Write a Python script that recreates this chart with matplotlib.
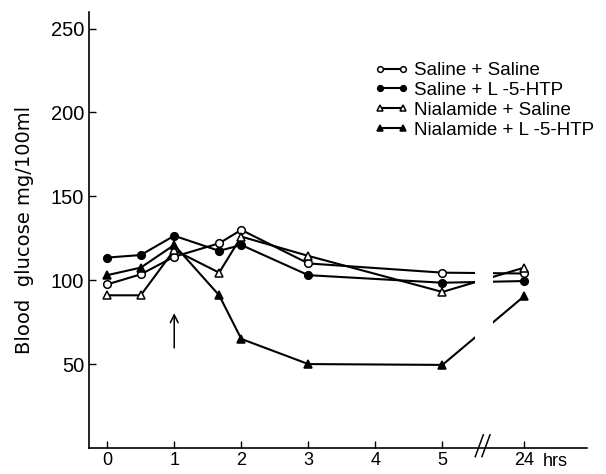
import numpy as np
import matplotlib.pyplot as plt

plt.rcParams['font.family'] = ['Liberation Sans', 'DejaVu Sans']

# sampling times (hours); 24 h is drawn after an axis break
hours = [0, 0.5, 1, 1.67, 2, 3, 5, 24]
tick_hours = [0, 1, 2, 3, 4, 5, 24]
tick_labels = ['0', '1', '2', '3', '4', '5', '24']
pos_24 = 6.22     # where the 24 h value sits on the broken axis
break_pos = 5.6

saline_saline = [97.5, 103.5, 114, 122, 130, 110, 104.5, 104]
saline_htp = [113.5, 115, 126.5, 117.5, 121, 103, 98.5, 99.5]
nial_saline = [91, 91, 118, 104.5, 126, 114.5, 93, 107.5]
nial_htp = [103, 107.5, 121, 91, 65, 50, 49.5, 90.5]

arrow_at = 1
arrow_from, arrow_to = 58, 82


def to_pos(h):
    return np.array([pos_24 if v == 24 else v for v in h], dtype=float)


fig = plt.figure(figsize=(6.06, 4.74), dpi=100)
ax = fig.add_axes([0.147, 0.055, 0.822, 0.92])

x = to_pos(hours)
series = [
    (saline_saline, 'o', 'white', 'Saline + Saline'),
    (saline_htp, 'o', 'black', 'Saline + L -5-HTP'),
    (nial_saline, '^', 'white', 'Nialamide + Saline'),
    (nial_htp, '^', 'black', 'Nialamide + L -5-HTP'),
]
for y, m, fc, lab in series:
    ax.plot(x, y, color='black', lw=1.5, marker=m, ms=5.5, mfc=fc, mec='black',
            mew=1.1, label=lab, zorder=3)

# gap in the lines at the time break
ax.axvspan(5.48, 5.76, ymin=0.1, ymax=0.5, color='white', zorder=3.5, lw=0)

ax.annotate('', xy=(arrow_at, arrow_to), xytext=(arrow_at, arrow_from),
            arrowprops=dict(arrowstyle='->', color='black', lw=1.1,
                            mutation_scale=14))

ax.set_xlim(-0.27, 7.16)
ax.set_ylim(0, 260)
ax.set_xticks(to_pos(tick_hours))
ax.set_xticklabels(tick_labels, fontsize=13)
ax.set_yticks([50, 100, 150, 200, 250])
ax.tick_params(axis='y', labelsize=14.5, direction='in', length=5, width=1)
ax.tick_params(axis='x', direction='in', length=5, width=1, pad=3)
ax.text(6.49, -0.012, 'hrs', transform=ax.get_xaxis_transform(),
        fontsize=13, ha='left', va='top')

for s in ['top', 'right']:
    ax.spines[s].set_visible(False)
for s in ['left', 'bottom']:
    ax.spines[s].set_linewidth(1.2)

# axis break marks
tr = ax.get_xaxis_transform()
for dx in (-0.05, 0.05):
    ax.plot([break_pos + dx - 0.06, break_pos + dx + 0.06], [-0.02, 0.03],
            transform=tr, color='black', lw=1.1, clip_on=False)

ax.set_ylabel('Blood  glucose mg/100ml', fontsize=14, labelpad=12,
              family=['DejaVu Sans'])

ax.legend(loc='upper left', bbox_to_anchor=(0.572, 0.885), frameon=False,
          fontsize=13.5, handlelength=1.85, handletextpad=0.3,
          labelspacing=0.15, borderpad=0, borderaxespad=0, numpoints=2,
          markerscale=0.75)

fig.savefig('out.png', dpi=100)
